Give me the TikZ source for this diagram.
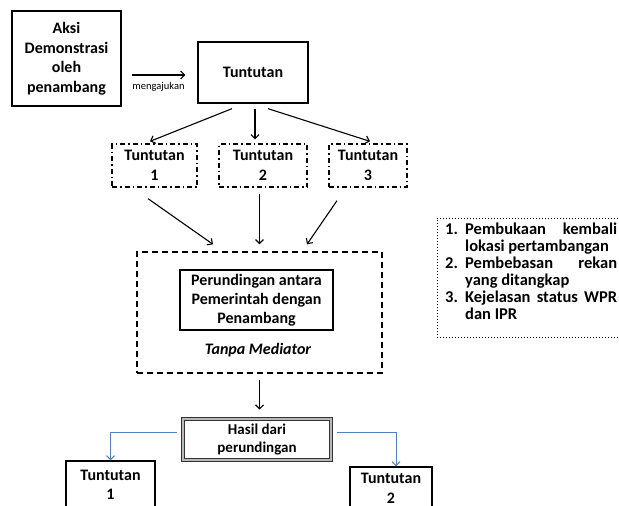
\documentclass[tikz,border=0pt]{standalone}
\usepackage{fontspec}
\setmainfont{Carlito}
\usetikzlibrary{arrows.meta}

\begin{document}
\begin{tikzpicture}[x=1pt,y=-1pt,
  box/.style={draw,line width=1.3pt,align=center,inner sep=0pt,
    font=\bfseries\fontsize{16}{19.5}\selectfont},
  dashdotbox/.style={box,dash pattern=on 5pt off 3pt on 1.5pt off 3pt},
  dashbox/.style={draw,line width=1.4pt,dash pattern=on 6pt off 4pt,inner sep=0pt},
  arr/.style={->,line width=1.1pt},
  bluearr/.style={->,line width=1pt,draw={rgb,255:red,79;green,129;blue,189}},
  >={Straight Barb[length=4pt,width=8pt]}]
\clip (0,0) rectangle (619,506);

% top row
\node[box,minimum width=109pt,minimum height=95pt] (aksi) at (66.5,58.5)
  {Aksi\\Demonstrasi\\oleh\\penambang};
\node[box,minimum width=110pt,minimum height=61pt] (tuntutan) at (253,72.5) {Tuntutan};
\draw[arr] ([shift={(10pt,-16.5pt)}]aksi.east) -- ([shift={(-12pt,-2.5pt)}]tuntutan.west)
  node[midway,below=3pt,font=\fontsize{10.5}{11}\selectfont] (lbl) {mengajukan};

% three demands
\node[dashdotbox,minimum width=85pt,minimum height=43pt] (t1) at (154.5,165.5) {Tuntutan\\1};
\node[dashdotbox,minimum width=88pt,minimum height=43pt] (t2) at (263,165.5) {Tuntutan\\2};
\node[dashdotbox,minimum width=78pt,minimum height=43pt] (t3) at (368,165.5) {Tuntutan\\3};
\draw[arr] ([shift={(-21pt,-5pt)}]tuntutan.south) -- ([shift={(-4.5pt,2pt)}]t1.north);
\draw[arr] ([shift={(2pt,-5pt)}]tuntutan.south) -- ([xshift=2pt,yshift=4pt]tuntutan.south |- t2.north);
\draw[arr] ([shift={(15pt,-5pt)}]tuntutan.south) -- ([shift={(2pt,2pt)}]t3.north);

% list of demands
\node[draw,dotted,line width=1pt,minimum width=190pt,minimum height=119pt,inner sep=0pt] (daftar) at (532,277.5) {};
\node[align=left,anchor=north west,inner sep=0pt,font=\bfseries\fontsize{16.5}{17}\selectfont] (isi) at (445,222.5)
  {\makebox[20pt][l]{1.}\makebox[152pt][s]{Pembukaan kembali}\\
   \hspace*{20pt}lokasi pertambangan\\
   \makebox[20pt][l]{2.}\makebox[152pt][s]{Pembebasan rekan}\\
   \hspace*{20pt}yang ditangkap\\
   \makebox[20pt][l]{3.}\makebox[152pt][s]{Kejelasan status WPR}\\
   \hspace*{20pt}dan IPR};

% negotiation
\node[dashbox,minimum width=245pt,minimum height=121pt] (med) at (259.5,312.5) {};
\node[box,minimum width=153pt,minimum height=60pt,line width=1.1pt,
  font=\bfseries\fontsize{16}{19}\selectfont] (runding) at (256.5,300)
  {Perundingan antara\\Pemerintah dengan\\Penambang};
\node[font=\bfseries\itshape\fontsize{16}{19}\selectfont] (tanpa) at (258,350) {Tanpa Mediator};
\draw[arr] ([shift={(-6.5pt,-11pt)}]t1.south) -- ([shift={(-46.5pt,7pt)}]med.north);
\draw[arr] ([yshift=-6pt]t2.south -| med.north) -- ([yshift=7pt]med.north);
\draw[arr] ([shift={(-31pt,-13pt)}]t3.south) -- ([shift={(47.5pt,7pt)}]med.north);

% result
\node[box,minimum width=148pt,minimum height=41pt,line width=0.9pt,
  font=\bfseries\fontsize{15}{17.5}\selectfont,
  draw=black!80,double=gray!55,double distance=2pt] (hasil) at (257,439.5)
  {Hasil dari\\perundingan};
\draw[arr] ([yshift=-6pt]med.south) -- ([yshift=9pt]med.south |- hasil.north);

\node[box,minimum width=89pt,minimum height=48pt] (b1) at (110.5,485) {Tuntutan\\1};
\node[box,minimum width=82pt,minimum height=43pt] (b2) at (391,488.5) {Tuntutan\\2};
\draw[bluearr] ([shift={(-6pt,7.5pt)}]hasil.west) -| (b1.north);
\draw[bluearr] ([shift={(6pt,7.5pt)}]hasil.east) -| ([xshift=5pt]b2.north);
\end{tikzpicture}
\end{document}
